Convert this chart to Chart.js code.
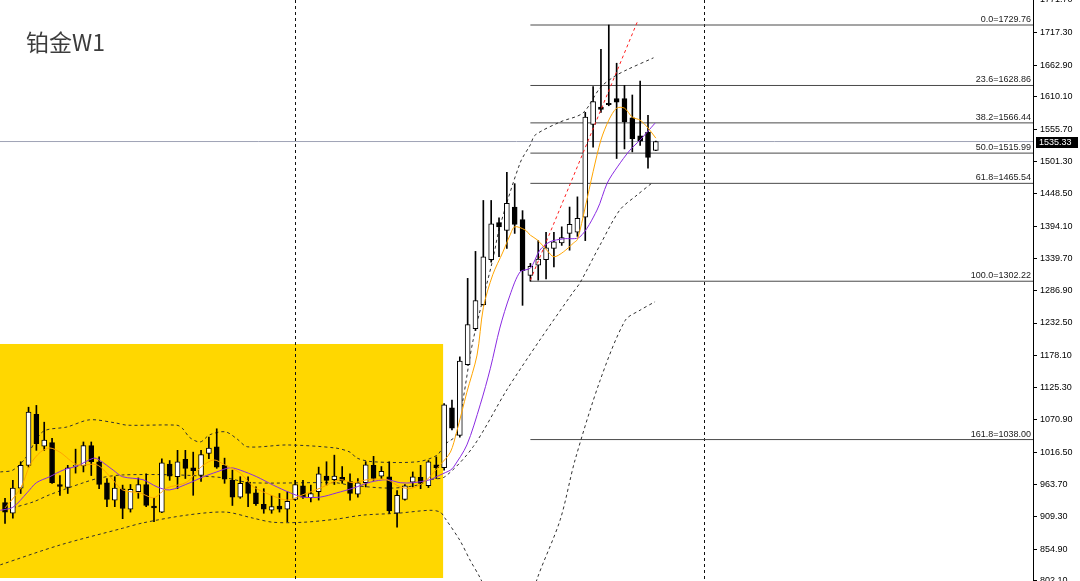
<!DOCTYPE html>
<html>
<head>
<meta charset="utf-8">
<script src="https://cdn.jsdelivr.net/npm/chart.js@4.4.1/dist/chart.umd.min.js"></script>
<style>
    html, body { margin: 0; padding: 0; background: #fff; }
    #wrap { width: 1080px; height: 581px; }
</style>
</head>
<body>
<div id="wrap"><canvas id="chart"></canvas></div>
<script>
// --- Data (weekly candles, oldest first) -------------------------------

const opens = [
    933, 915, 957, 995, 1080, 1027, 1033, 963, 958, 993, 994, 1028, 1001, 966,
    937, 956, 922, 951, 963, 927, 917, 997, 976, 1005, 991, 978, 1015, 1026,
    995, 970, 942, 967, 949, 930, 920, 927, 922, 938, 961, 941, 951, 977,
    971, 975, 968, 947, 966, 995, 977, 976, 915, 938, 967, 975, 961, 996,
    991, 1091, 1045, 1163, 1223, 1263, 1338, 1400, 1387, 1426, 1405, 1312, 1329, 1338,
    1357, 1366, 1382, 1384, 1409, 1564, 1593, 1599, 1607, 1607, 1575, 1545, 1551, 1520.5,
];
const highs = [
    940, 970, 1001, 1092, 1095, 1067, 1040, 978, 995, 1022, 1034, 1034, 1009, 973,
    976, 962, 963, 974, 981, 940, 1006, 1003, 1020, 1020, 1017, 1020, 1042, 1056,
    1007, 987, 976, 976, 959, 956, 945, 948, 951, 970, 970, 962, 992, 1001,
    1012, 993, 981, 973, 1001, 1010, 993, 1001, 953, 963, 984, 995, 1003, 1009,
    1098, 1104, 1176, 1307, 1352, 1437, 1437, 1408, 1484, 1465, 1420, 1332, 1370, 1384,
    1384, 1393, 1426, 1443, 1584, 1627, 1689, 1729.76, 1666, 1629, 1613, 1636, 1579, 1536,
];
const lows = [
    898, 907, 948, 992, 1020, 1020, 965, 945, 948, 982, 984, 978, 956, 926,
    926, 906, 917, 940, 926, 901, 916, 970, 956, 973, 945, 968, 1006, 990,
    965, 928, 940, 926, 928, 915, 915, 917, 901, 937, 940, 934, 937, 962,
    963, 965, 937, 942, 959, 970, 973, 915, 892, 937, 959, 956, 958, 973,
    987, 1054, 1042, 1162, 1220, 1262, 1334, 1343, 1357, 1382, 1262, 1302.22, 1304, 1306,
    1326, 1362, 1354, 1377, 1370, 1526, 1584, 1595, 1507, 1523, 1518, 1529, 1491, 1520,
];
const closes = [
    917, 957, 995, 1084, 1031, 1037, 966, 960, 991, 995, 1028, 1001, 963, 938,
    957, 923, 955, 963, 928, 924, 999, 977, 1001, 990, 986, 1013, 1024, 992,
    972, 942, 965, 948, 931, 922, 926, 922, 935, 963, 942, 948, 981, 970,
    977, 969, 948, 966, 996, 973, 985, 919, 945, 961, 976, 965, 1001, 991,
    1096, 1057, 1169, 1230, 1270, 1343, 1398, 1393, 1432, 1397, 1320, 1327, 1339, 1358,
    1368, 1375, 1397, 1407, 1576, 1602, 1589, 1597, 1601, 1568, 1540, 1536, 1509, 1535.33,
];

// Fast moving average (orange) as [bar index, price]
const fastMa = [
    [0, 924], [2, 957], [3.2, 996], [4.5, 1017], [5.7, 1024], [7, 1017], [9.2, 996],
    [11.7, 996], [13.4, 976], [15, 954], [17.2, 949], [19, 941], [20.6, 957], [23.2, 967],
    [24.9, 991], [26.6, 1004], [28, 996], [30, 982], [31.7, 959], [33.8, 946], [36, 937],
    [38, 946], [40.2, 957], [42.7, 971], [44.4, 966], [46.2, 971], [48.7, 971], [50.4, 959],
    [52, 957], [53.8, 971], [55.5, 996], [56.8, 1017], [57.6, 1051], [58.9, 1117], [60.2, 1179],
    [61, 1258], [62.2, 1313], [63.5, 1351], [64.4, 1379], [65, 1393], [66.3, 1388], [67, 1379],
    [67.9, 1371], [69.1, 1354], [70, 1343], [71.2, 1351], [72.5, 1366], [73, 1372], [74, 1426],
    [75, 1485], [76, 1538], [77, 1571], [78, 1591], [79, 1591], [80, 1576], [81, 1571],
    [82, 1558], [83, 1541],
];

// Slow moving average (violet)
const slowMa = [
    [-0.6, 920], [1, 925], [2.8, 949], [4, 966], [5.7, 976], [7.4, 987], [9.2, 994],
    [11.3, 1007], [12, 1004], [13.8, 987], [15, 976], [17.6, 971], [19.4, 959], [21, 954],
    [23.6, 966], [25.3, 976], [27, 984], [28.7, 991], [30, 987], [32.1, 976], [34.2, 962],
    [36.4, 949], [38, 942], [40.2, 942], [42.3, 949], [44.4, 957], [46.6, 967], [48.7, 971],
    [50.4, 966], [52, 966], [54.2, 971], [55.5, 979], [56.8, 987], [57.2, 992], [58.9, 1029],
    [60.6, 1096], [61.9, 1157], [63.1, 1224], [64.4, 1279], [65.7, 1318], [67, 1324],
    [68.2, 1354], [69.5, 1368], [71.2, 1373], [73.3, 1376], [75.5, 1421], [76.8, 1466],
    [78.1, 1493], [79.7, 1521], [81, 1538], [82.9, 1566],
];

// Envelope bands (dashed): upper, middle, lower
const bandUpper = [
    [-0.6, 984], [1, 987], [2.6, 1007], [4.8, 1051], [7.9, 1059], [10.8, 1071], [14, 1066],
    [15.6, 1062], [21.9, 1062], [22.6, 1057], [23.6, 1041], [24.9, 1034], [26.1, 1046],
    [28.1, 1051], [29.6, 1039], [30.9, 1026], [36, 1029], [42.1, 1024], [44, 1017],
    [44.9, 1007], [46.9, 1001], [52.6, 1001], [55.1, 1012], [56.1, 1030], [57.5, 1045],
    [58.4, 1104], [59.7, 1204], [62.2, 1338], [63.1, 1393], [65.7, 1500], [67, 1530],
    [67.6, 1546], [70.8, 1568], [73.7, 1583], [75.9, 1625], [77.6, 1643], [79.3, 1655],
    [82.7, 1675],
];
const bandMiddle = [
    [1, 924], [3.6, 934], [5.7, 946], [10, 966], [12.1, 974], [15, 979], [21.9, 979],
    [28.1, 974], [31.3, 966], [42.1, 966], [44, 962], [49.1, 957], [52.6, 962], [54.2, 971],
    [56.1, 976], [59.7, 1026], [64, 1121], [68.2, 1204], [72.4, 1283], [73.3, 1299],
    [75.9, 1363], [78.4, 1421], [80.6, 1446], [82.5, 1466],
];
const bandLower = [
    [-0.6, 829], [7, 862], [15, 890], [17.6, 899], [23.2, 912], [28.1, 917], [31.6, 907],
    [34.2, 900], [38, 900], [42.1, 905], [45.7, 912], [50, 915], [54.2, 920], [55.5, 917],
    [56.1, 907], [58, 870], [59.3, 837], [60.6, 807], [61.9, 770], [64.4, 704], [66.3, 737],
    [67.9, 807], [70.8, 904], [72.7, 1004], [75.9, 1137], [79.1, 1237], [81, 1254],
    [82.9, 1268],
];

// Red trend line (start / end)
const trendLine = [[67, 1304], [80.7, 1737]];

// Fibonacci retracement
const fibStart = 67;
const fibPcts = [0.0, 23.6, 38.2, 50.0, 61.8, 100.0, 161.8];
const fibLevels = [1729.76, 1628.86, 1566.44, 1515.99, 1465.54, 1302.22, 1038.00];

const lastPrice = 1535.33;
const separators = [37, 89.2];
const yTicks = [
    1771.70, 1717.30, 1662.90, 1610.10, 1555.70, 1501.30, 1448.50, 1394.10, 1339.70, 1286.90,
    1232.50, 1178.10, 1125.30, 1070.90, 1016.50, 963.70, 909.30, 854.90, 802.10,
];

// Highlighted (yellow) block in data space
const highlight = { fromIdx: -0.64, toIdx: 55.87, low: 807, high: 1197.5 };

const title = '铂金W1';

// --- Scale range --------------------------------------------------------

const X_MIN = -0.64;
const X_MAX = 131.1;
const Y_MIN = 802;
const Y_MAX = 1771.5;

const AXIS_FONT = { family: '"Liberation Sans", Arial, sans-serif', size: 9 };

const pts = (arr) => arr.map(([x, y]) => ({ x, y }));

// --- Build datasets -----------------------------------------------------

const wickData = opens.map((_, i) => ({ x: i, y: [lows[i], highs[i]] }));
const bodyData = opens.map((o, i) => ({ x: i, y: [Math.min(o, closes[i]), Math.max(o, closes[i])] }));
const bodyColors = opens.map((o, i) => (closes[i] >= o ? '#ffffff' : '#000000'));

function lineSet(data, color, dash, order, width = 1, tension = 0.3) {
    return {
        type: 'line',
        data,
        borderColor: color,
        borderWidth: width,
        borderDash: dash || [],
        pointRadius: 0,
        tension,
        fill: false,
        order,
    };
}

const fibSets = fibLevels.map((lvl) =>
    lineSet([{ x: fibStart, y: lvl }, { x: X_MAX, y: lvl }], '#4a4a4a', null, 12, 1, 0)
);

// --- Plugins ------------------------------------------------------------

const backdrop = {
    id: 'backdrop',
    beforeDatasetsDraw(chart) {
        const { ctx, scales: { x, y }, chartArea } = chart;
        ctx.save();
        // yellow block
        const x0 = x.getPixelForValue(highlight.fromIdx);
        const x1 = x.getPixelForValue(highlight.toIdx);
        const y0 = y.getPixelForValue(highlight.high);
        const y1 = y.getPixelForValue(highlight.low);
        ctx.fillStyle = '#ffd700';
        ctx.fillRect(x0, y0, x1 - x0, y1 - y0);

        // period separators
        ctx.strokeStyle = '#111';
        ctx.lineWidth = 1;
        ctx.setLineDash([3, 3]);
        separators.forEach((s) => {
            const px = Math.round(x.getPixelForValue(s)) + 0.5;
            ctx.beginPath();
            ctx.moveTo(px, chartArea.top);
            ctx.lineTo(px, chartArea.bottom);
            ctx.stroke();
        });
        ctx.restore();
    },
};

const overlay = {
    id: 'overlay',
    afterDraw(chart) {
        const { ctx, scales: { y }, chartArea } = chart;
        ctx.save();

        // fib labels
        ctx.font = `${AXIS_FONT.size}px ${AXIS_FONT.family}`;
        ctx.fillStyle = '#1a1a1a';
        ctx.textAlign = 'right';
        ctx.textBaseline = 'bottom';
        fibLevels.forEach((lvl, i) => {
            const py = y.getPixelForValue(lvl);
            ctx.fillText(`${fibPcts[i].toFixed(1)}=${lvl.toFixed(2)}`, chartArea.right - 2, py - 1);
        });

        // last price tag on the axis
        const py = Math.round(y.getPixelForValue(lastPrice));
        ctx.fillStyle = '#000';
        ctx.fillRect(chartArea.right + 3, py - 5, 42, 11);
        ctx.fillStyle = '#fff';
        ctx.textAlign = 'left';
        ctx.textBaseline = 'middle';
        ctx.fillText(lastPrice.toFixed(2), chartArea.right + 6, py + 0.5);

        // title
        ctx.font = '23px "Noto Sans CJK SC", sans-serif';
        ctx.fillStyle = '#3c3c3c';
        ctx.textAlign = 'left';
        ctx.textBaseline = 'middle';
        ctx.fillText(title, chartArea.left + 26, 42);
        ctx.restore();
    },
};

// --- Chart --------------------------------------------------------------

new Chart(document.getElementById('chart'), {
    data: {
        datasets: [
            lineSet(pts(fastMa), '#ffa500', null, 1),
            lineSet(pts(slowMa), '#8a2be2', null, 2),
            lineSet(pts(trendLine), '#ff2020', [3, 3], 3, 1, 0),
            {
                type: 'bar',
                data: bodyData,
                backgroundColor: bodyColors,
                borderColor: '#000',
                borderWidth: 1,
                borderSkipped: false,
                barThickness: 5,
                minBarLength: 1,
                grouped: false,
                order: 4,
            },
            {
                type: 'bar',
                data: wickData,
                backgroundColor: '#000',
                borderWidth: 0,
                barThickness: 1,
                grouped: false,
                order: 5,
            },
            lineSet(pts(bandUpper), '#303030', [3, 3], 6),
            lineSet(pts(bandMiddle), '#303030', [3, 3], 7),
            lineSet(pts(bandLower), '#303030', [3, 3], 8),
            lineSet([{ x: X_MIN, y: lastPrice }, { x: X_MAX, y: lastPrice }], '#9ea3b5', null, 11, 1, 0),
            ...fibSets,
        ],
    },
    options: {
        responsive: true,
        maintainAspectRatio: false,
        animation: false,
        devicePixelRatio: 1,
        layout: { padding: 0 },
        plugins: {
            legend: { display: false },
            tooltip: { enabled: false },
        },
        scales: {
            x: {
                type: 'linear',
                min: X_MIN,
                max: X_MAX,
                offset: false,
                grid: { offset: false },
                display: false,
            },
            y: {
                type: 'linear',
                position: 'right',
                min: Y_MIN,
                max: Y_MAX,
                afterBuildTicks: (scale) => {
                    scale.ticks = yTicks.map((v) => ({ value: v }));
                },
                afterFit: (scale) => {
                    scale.width = 47;
                    scale.paddingTop = 0;
                    scale.paddingBottom = 0;
                },
                ticks: {
                    color: '#000',
                    font: AXIS_FONT,
                    padding: 3,
                    autoSkip: false,
                    callback: (v) => Number(v).toFixed(2),
                },
                grid: {
                    drawOnChartArea: false,
                    drawTicks: true,
                    tickLength: 4,
                    color: '#000',
                },
                border: { display: true, color: '#000' },
            },
        },
    },
    plugins: [backdrop, overlay],
});
</script>
</body>
</html>
